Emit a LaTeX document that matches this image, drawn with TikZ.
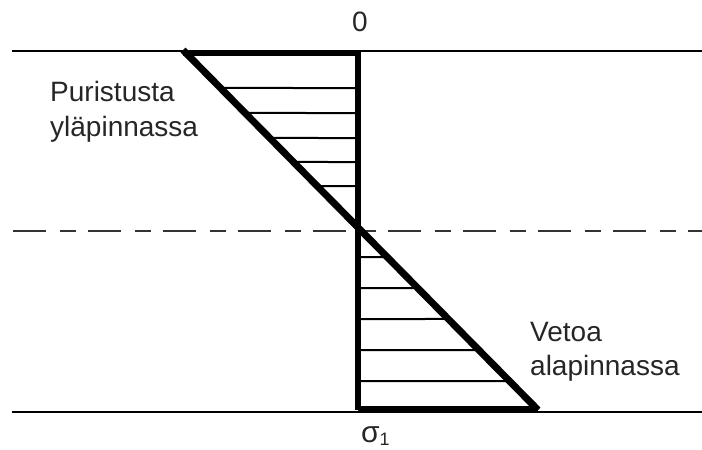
\documentclass[tikz,border=0pt]{standalone}
\usepackage{fontspec}
\setmainfont{Liberation Sans}
\usetikzlibrary{calc}
\begin{document}
\begin{tikzpicture}[x=1pt,y=-1pt,
  thinline/.style={line width=2.5pt,black},
  thickline/.style={line width=6pt,black},
  diagline/.style={line width=7pt,black},
  hatchline/.style={line width=2pt,black},
  dashline/.style={line width=2pt,black!80,dash pattern=on 33pt off 14pt on 16pt off 12pt},
  lbl/.style={inner sep=0pt,text=black!85,font=\fontsize{28}{35}\selectfont}
]
\useasboundingbox (0,0) rectangle (702,450);
% key coordinates
\coordinate (A) at (183,50);
\coordinate (B) at (538,410);
\coordinate (VT) at (358,50);
\coordinate (VB) at (358,410);
% dashed neutral axis
\draw[dashline] (12.7,230.7) -- (702,230.7);
% thin boundary lines
\draw[thinline] (12,51) -- (702,51);
\draw[thinline] (12,412) -- (702,412);
% hatching top (compression)
\foreach \y in {88,113,138,162,186}{
  \draw[hatchline] ($(A)!{(\y-50)/360}!(B)$) -- (358,\y);
}
% hatching bottom (tension)
\foreach \y in {257,288,319,350,381}{
  \draw[hatchline] (358,\y) -- ($(A)!{(\y-50)/360}!(B)$);
}
% thick stress block edges
\draw[thickline] (183,53) -- (358,53);
\draw[thickline] (358,409) -- (538,409);
\draw[line width=5.5pt] (VT) -- (VB);
\draw[diagline] (A) -- (B);
% labels
\node[lbl,font=\fontsize{28}{34}\selectfont] (zero) at (360,22) {0};
\node[lbl,anchor=base west] (p1) at (50,101.7) {Puristusta};
\node[lbl,anchor=base west] (p2) at (50,136.7) {yläpinnassa};
\node[lbl,anchor=base west] (v1) at (530,341.7) {Vetoa};
\node[lbl,anchor=base west] (v2) at (530,375) {alapinnassa};
\node[lbl,anchor=base west,font=\fontsize{30}{34}\selectfont] (sig) at (361,442) {σ\raisebox{-3pt}{\fontsize{18}{20}\selectfont 1}};
\end{tikzpicture}
\end{document}
